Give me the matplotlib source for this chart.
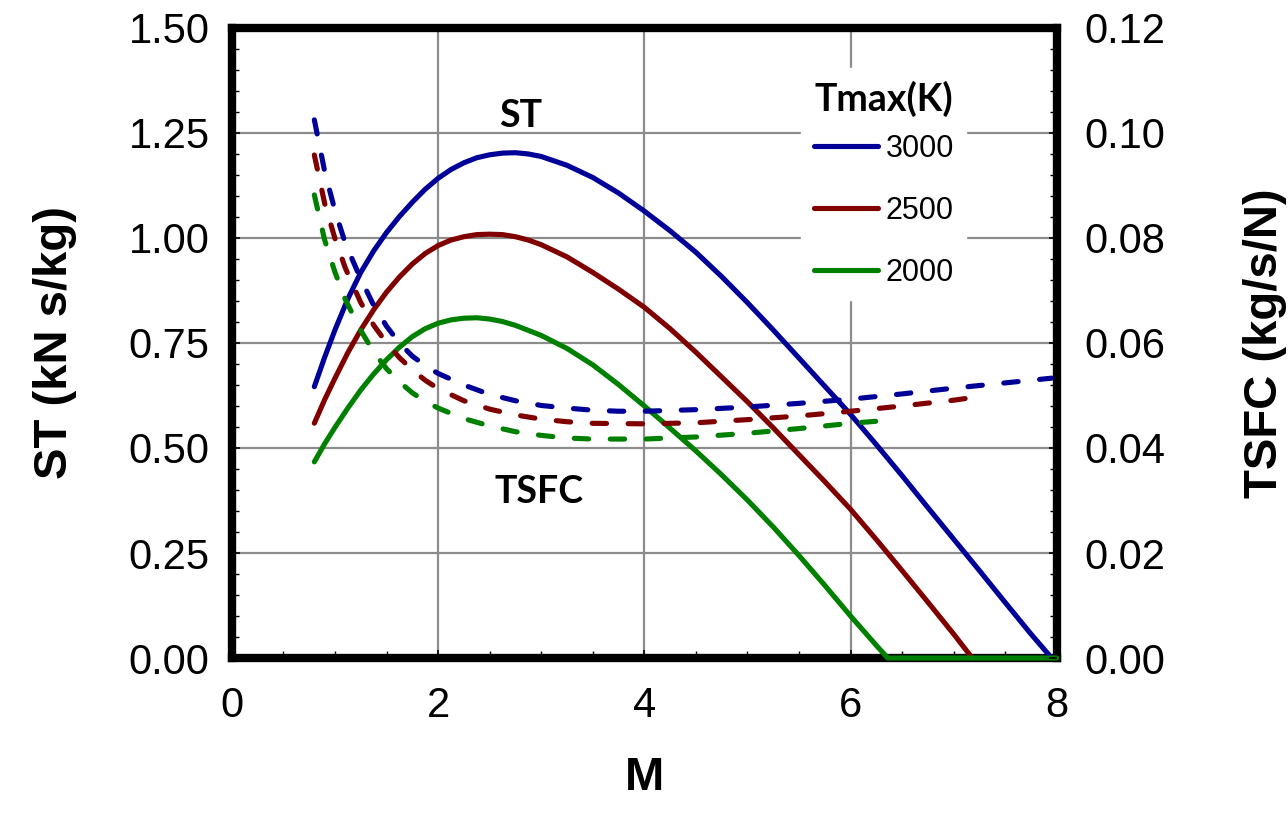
import matplotlib.pyplot as plt
from matplotlib.ticker import MultipleLocator, FormatStrFormatter

# ---- data ----
tmax_labels = ['3000', '2500', '2000']
colors = ['#000099', '#800000', '#008000']

# specific thrust, kN s/kg
m_st_3000 = [0.8, 0.9, 1.0, 1.125, 1.25, 1.375, 1.5, 1.625, 1.75, 1.875, 2.0, 2.125, 2.25,
             2.375, 2.5, 2.625, 2.75, 2.875, 3.0, 3.25, 3.5, 3.75, 4.0, 4.25, 4.5, 4.75,
             5.0, 5.25, 5.5, 5.75, 6.0, 6.25, 6.5, 6.75, 7.0, 7.25, 7.5, 7.75, 7.95]
st_3000 = [0.646, 0.716, 0.781, 0.855, 0.918, 0.969, 1.013, 1.051, 1.085, 1.116, 1.142, 1.163,
           1.179, 1.191, 1.198, 1.202, 1.203, 1.2, 1.194, 1.173, 1.144, 1.107, 1.064, 1.017,
           0.966, 0.908, 0.846, 0.781, 0.714, 0.647, 0.58, 0.508, 0.434, 0.358, 0.283, 0.208,
           0.132, 0.057, 0.0]

m_st_2500 = [0.8, 0.9, 1.0, 1.125, 1.25, 1.375, 1.5, 1.625, 1.75, 1.875, 2.0, 2.125, 2.25,
             2.375, 2.5, 2.625, 2.75, 2.875, 3.0, 3.25, 3.5, 3.75, 4.0, 4.25, 4.5, 4.75,
             5.0, 5.25, 5.5, 5.75, 6.0, 6.25, 6.5, 6.75, 7.0, 7.18]
st_2500 = [0.559, 0.615, 0.666, 0.727, 0.781, 0.829, 0.871, 0.907, 0.938, 0.963, 0.982, 0.995,
           1.003, 1.008, 1.009, 1.008, 1.003, 0.995, 0.984, 0.955, 0.918, 0.878, 0.835, 0.784,
           0.728, 0.669, 0.61, 0.548, 0.484, 0.42, 0.354, 0.282, 0.208, 0.133, 0.057, 0.0]

m_st_2000 = [0.8, 0.9, 1.0, 1.125, 1.25, 1.375, 1.5, 1.625, 1.75, 1.875, 2.0, 2.125, 2.25,
             2.375, 2.5, 2.625, 2.75, 3.0, 3.25, 3.5, 3.75, 4.0, 4.25, 4.5, 4.75, 5.0,
             5.25, 5.5, 5.75, 6.0, 6.25, 6.36, 8.0]
st_2000 = [0.467, 0.51, 0.549, 0.595, 0.638, 0.676, 0.71, 0.74, 0.765, 0.784, 0.797, 0.805,
           0.809, 0.81, 0.807, 0.801, 0.792, 0.768, 0.737, 0.698, 0.651, 0.6, 0.547, 0.493,
           0.436, 0.376, 0.312, 0.244, 0.173, 0.1, 0.03, 0.0, 0.0]

# thrust specific fuel consumption, kg/s/N
m_tsfc_3000 = [0.8, 0.9, 1.0, 1.1, 1.25, 1.375, 1.5, 1.625, 1.75, 1.875, 2.0, 2.25, 2.5,
               2.75, 3.0, 3.25, 3.5, 3.75, 4.0, 4.5, 5.0, 5.5, 6.0, 6.5, 7.0, 7.5, 7.95]
tsfc_3000 = [0.1025, 0.0927, 0.0852, 0.079, 0.0722, 0.0672, 0.0632, 0.06, 0.0575, 0.0557,
             0.0542, 0.052, 0.0502, 0.049, 0.0481, 0.0476, 0.0472, 0.047, 0.047, 0.0473,
             0.0478, 0.0485, 0.0493, 0.0503, 0.0514, 0.0524, 0.0533]

m_tsfc_2500 = [0.8, 0.9, 1.0, 1.1, 1.25, 1.375, 1.5, 1.625, 1.75, 1.875, 2.0, 2.25, 2.5,
               2.75, 3.0, 3.25, 3.5, 4.0, 4.5, 5.0, 5.5, 6.0, 6.5, 7.0, 7.18]
tsfc_2500 = [0.0958, 0.0866, 0.0799, 0.0743, 0.0677, 0.0634, 0.06, 0.0572, 0.0549, 0.0529,
             0.0513, 0.049, 0.0474, 0.0463, 0.0455, 0.045, 0.0447, 0.0446, 0.0448, 0.0454,
             0.0461, 0.047, 0.048, 0.0491, 0.0496]

m_tsfc_2000 = [0.8, 0.9, 1.0, 1.1, 1.25, 1.375, 1.5, 1.625, 1.75, 1.875, 2.0, 2.25, 2.5,
               2.75, 3.0, 3.25, 3.5, 4.0, 4.5, 5.0, 5.5, 6.0, 6.32]
tsfc_2000 = [0.0882, 0.0796, 0.0735, 0.0683, 0.0624, 0.0583, 0.0551, 0.0526, 0.0505, 0.0489,
             0.0476, 0.0456, 0.0442, 0.0431, 0.0424, 0.0419, 0.0417, 0.0417, 0.0421, 0.0428,
             0.0437, 0.0447, 0.0452]

st_series = [(m_st_3000, st_3000), (m_st_2500, st_2500), (m_st_2000, st_2000)]
tsfc_series = [(m_tsfc_3000, tsfc_3000), (m_tsfc_2500, tsfc_2500), (m_tsfc_2000, tsfc_2000)]

# ---- figure ----
plt.rcParams['font.family'] = ['Liberation Sans', 'DejaVu Sans']
fig = plt.figure(figsize=(12.88, 8.22), dpi=100)
ax = fig.add_axes([0.180, 0.1995, 0.6405, 0.7665])
ax2 = ax.twinx()

lines = []
for (m, st), c, lab in zip(st_series, colors, tmax_labels):
    ln, = ax.plot(m, st, color=c, lw=3.7, label=lab, solid_capstyle='round',
                  solid_joinstyle='round', zorder=3, clip_on=False)
    lines.append(ln)
for (m, ts), c in zip(tsfc_series, colors):
    ax2.plot(m, ts, color=c, lw=3.7, dashes=(2.8, 4.2), dash_capstyle='round')

ax.set_xlim(0, 8)
ax.set_ylim(0, 1.5)
ax2.set_ylim(0, 0.12)

ax.xaxis.set_major_locator(MultipleLocator(2))
ax.xaxis.set_minor_locator(MultipleLocator(0.5))
ax.yaxis.set_major_locator(MultipleLocator(0.25))
ax.yaxis.set_minor_locator(MultipleLocator(0.05))
ax.yaxis.set_major_formatter(FormatStrFormatter('%.2f'))
ax2.yaxis.set_major_locator(MultipleLocator(0.02))
ax2.yaxis.set_minor_locator(MultipleLocator(0.004))
ax2.yaxis.set_major_formatter(FormatStrFormatter('%.2f'))

ax.grid(True, which='major', color='#8c8c8c', lw=1.6)
ax.set_axisbelow(True)

ax.tick_params(which='both', direction='in', labelsize=30, color='black')
ax.tick_params(axis='x', pad=20)
ax.tick_params(axis='y', pad=16)
ax.tick_params(which='major', length=6, width=1.2)
ax.tick_params(which='minor', length=5, width=1.0)
ax2.tick_params(which='both', direction='in', labelsize=30, pad=20)
ax2.tick_params(which='major', length=6, width=1.2)
ax2.tick_params(which='minor', length=5, width=1.0)

# the thick frame belongs to the main axes, so the ST lines can sit on top of it
for s in ax.spines.values():
    s.set_linewidth(6)
    s.set_color('black')
for s in ax2.spines.values():
    s.set_visible(False)

ax.set_xlabel('M', fontsize=34, fontweight='bold', labelpad=22)
ax.set_ylabel('ST (kN s/kg)', fontsize=34, fontweight='bold', labelpad=37)
ax2.set_ylabel('TSFC (kg/s/N)', fontsize=34, fontweight='bold', labelpad=56)

ax.text(2.8, 1.29, 'ST', fontsize=27, fontweight='bold', family='Lato',
        ha='center', va='center')
ax.text(2.98, 0.395, 'TSFC', fontsize=27, fontweight='bold', family='Lato',
        ha='center', va='center')

leg = ax2.legend(handles=lines, title='Tmax(K)', loc='upper left',
                 bbox_to_anchor=(0.672, 0.96), fontsize=22, frameon=True,
                 fancybox=False, edgecolor='white', facecolor='white', framealpha=1,
                 handlelength=2.1, handletextpad=0.25, labelspacing=1.05,
                 borderpad=0.4)
leg.get_title().set_fontsize(27)
leg.get_title().set_fontweight('bold')
leg.get_title().set_family('Lato')
leg._legend_box.sep = 12  # tighter gap between title and entries

fig.savefig('out.png', dpi=100)
